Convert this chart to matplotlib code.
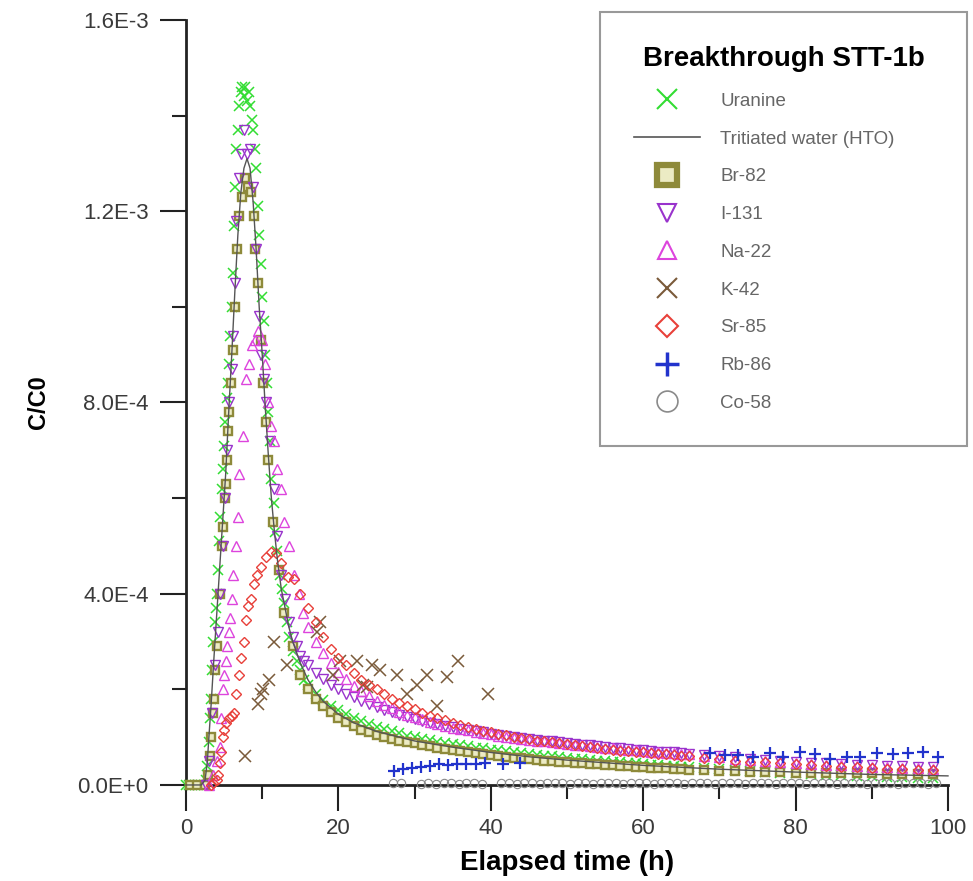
import matplotlib
matplotlib.use('Agg')
import matplotlib.pyplot as plt
from matplotlib.lines import Line2D
from matplotlib.ticker import MultipleLocator, FuncFormatter
import numpy as np

plt.rcParams['font.family'] = ['Liberation Sans', 'DejaVu Sans']

# values, C/C0 in units of 1E-3, time in hours
tail_t = [16, 17, 18, 19, 20, 21, 22, 23, 24, 25, 26, 27, 28, 29, 30, 31, 32, 33, 34, 35,
          36, 37, 38, 39, 40, 41, 42, 43, 44, 45, 46, 47, 48, 49, 50, 51, 52, 53, 54, 55,
          56, 57, 58, 59, 60, 61, 62, 63, 64, 65, 66,
          68, 70, 72, 74, 76, 78, 80, 82, 84, 86, 88, 90, 92, 94, 96, 98]

uranine_t = [0.0, 0.4, 0.8, 1.2, 1.6, 2.0, 2.3, 2.6, 2.8, 3.0, 3.15, 3.3, 3.45, 3.6, 3.75, 3.9,
             4.05, 4.2, 4.35, 4.5, 4.7, 4.85, 5.0, 5.15, 5.35, 5.5, 5.65, 5.8, 6.0, 6.15, 6.3,
             6.45, 6.6, 6.8, 7.0, 7.2, 7.4, 7.6, 7.8, 8.0, 8.2, 8.4, 8.6, 8.8, 9.0, 9.2, 9.4,
             9.6, 9.8, 10.0, 10.2, 10.4, 10.6, 10.8, 11.0, 11.2, 11.5, 11.7, 12.0, 12.3, 12.6,
             12.9, 13.2, 13.5, 14.0, 14.5, 15.0, 15.5]
uranine_v = [0, 0, 0, 0, 0, 0, 0, 0.01, 0.04, 0.09, 0.14, 0.18, 0.24, 0.30, 0.34, 0.37,
             0.40, 0.45, 0.51, 0.56, 0.62, 0.66, 0.71, 0.76, 0.81, 0.84, 0.88, 0.94, 1.00, 1.07, 1.17,
             1.25, 1.33, 1.37, 1.42, 1.45, 1.46, 1.44, 1.46, 1.43, 1.45, 1.42, 1.39, 1.37, 1.33, 1.29, 1.21,
             1.15, 1.09, 1.02, 0.97, 0.90, 0.84, 0.78, 0.72, 0.64, 0.59, 0.53, 0.49, 0.44, 0.41,
             0.38, 0.34, 0.31, 0.28, 0.26, 0.24, 0.22]
uranine_tail = [0.21, 0.19, 0.178, 0.165, 0.157, 0.148, 0.141, 0.133, 0.128, 0.121,
                0.117, 0.112, 0.108, 0.103, 0.100, 0.097, 0.094, 0.090, 0.088, 0.086,
                0.083, 0.081, 0.078, 0.077, 0.074, 0.073, 0.071, 0.068, 0.067, 0.065,
                0.063, 0.061, 0.060, 0.058, 0.057, 0.055, 0.054, 0.052, 0.051, 0.050,
                0.048, 0.047, 0.046, 0.045, 0.044, 0.042, 0.041, 0.040, 0.039, 0.038, 0.037,
                0.035, 0.033, 0.031, 0.029, 0.027, 0.025, 0.024, 0.022, 0.021, 0.020,
                0.019, 0.018, 0.017, 0.016, 0.015, 0.014]

hto_t = [0, 2.0, 2.5, 2.8, 3.0, 3.3, 3.6, 4.0, 4.4, 4.8, 5.2, 5.6, 6.0, 6.4, 6.8, 7.2, 7.6, 8.0,
         8.4, 8.8, 9.2, 9.6, 10.0, 10.4, 10.8, 11.2, 11.6, 12.0, 12.5, 13.0, 13.5, 14, 15, 16, 17,
         18, 20, 22, 25, 30, 35, 40, 45, 50, 60, 70, 80, 90, 100]
hto_v = [0, 0, 0.01, 0.05, 0.10, 0.17, 0.25, 0.35, 0.45, 0.55, 0.65, 0.78, 0.90, 1.03, 1.15, 1.24,
         1.29, 1.31, 1.29, 1.22, 1.12, 1.00, 0.90, 0.79, 0.69, 0.60, 0.53, 0.47, 0.41, 0.37, 0.33,
         0.30, 0.255, 0.22, 0.195, 0.175, 0.148, 0.13, 0.112, 0.092, 0.079, 0.068, 0.059, 0.052,
         0.041, 0.033, 0.027, 0.022, 0.019]

br_t = [0.5, 1.5, 2.5, 2.9, 3.1, 3.3, 3.5, 3.7, 3.85, 4.0, 4.4, 4.7, 4.9, 5.05, 5.2, 5.35, 5.5,
        5.65, 5.9, 6.2, 6.45, 6.7, 7.0, 7.3, 7.7, 8.1, 8.5, 8.9, 9.1, 9.4, 9.8, 10.1, 10.5, 10.8,
        11.4, 12.2, 12.9, 14.0, 15.0]
br_v = [0, 0, 0, 0.02, 0.06, 0.10, 0.15, 0.18, 0.24, 0.29, 0.40, 0.50, 0.54, 0.60, 0.63, 0.68, 0.74,
        0.78, 0.84, 0.91, 1.00, 1.12, 1.19, 1.23, 1.27, 1.25, 1.24, 1.19, 1.12, 1.05, 0.93, 0.84, 0.76,
        0.68, 0.55, 0.45, 0.36, 0.29, 0.23]
br_tail = [0.20, 0.18, 0.165, 0.152, 0.140, 0.131, 0.123, 0.116, 0.110, 0.105,
           0.100, 0.096, 0.093, 0.090, 0.087, 0.084, 0.081, 0.078, 0.076, 0.073,
           0.071, 0.069, 0.067, 0.065, 0.063, 0.061, 0.059, 0.057, 0.056, 0.054,
           0.053, 0.051, 0.050, 0.049, 0.047, 0.046, 0.045, 0.044, 0.043, 0.042,
           0.041, 0.040, 0.039, 0.038, 0.037, 0.036, 0.035, 0.035, 0.034, 0.033, 0.032,
           0.031, 0.030, 0.029, 0.028, 0.027, 0.027, 0.026, 0.026, 0.025, 0.025,
           0.024, 0.024, 0.023, 0.023, 0.022, 0.022]

i_t = [2.6, 3.0, 3.4, 3.8, 4.2, 4.5, 4.8, 5.1, 5.4, 5.7, 6.0, 6.2, 6.4, 6.6, 6.9, 7.2, 7.6, 8.0,
       8.4, 8.8, 9.2, 9.6, 9.9, 10.2, 10.5, 11.0, 11.5, 12.0, 12.5, 13.0, 13.5, 14.0, 14.5, 15.0, 15.5]
i_v = [0.0, 0.05, 0.15, 0.25, 0.32, 0.40, 0.50, 0.60, 0.70, 0.80, 0.87, 0.94, 1.05, 1.18, 1.27, 1.32,
       1.37, 1.32, 1.33, 1.25, 1.12, 0.98, 0.90, 0.85, 0.80, 0.72, 0.62, 0.52, 0.44, 0.39, 0.34, 0.31,
       0.29, 0.27, 0.26]
i_tail = [0.25, 0.235, 0.222, 0.21, 0.20, 0.191, 0.183, 0.176, 0.169, 0.163,
          0.157, 0.152, 0.147, 0.142, 0.138, 0.134, 0.130, 0.127, 0.124, 0.121,
          0.118, 0.115, 0.112, 0.110, 0.107, 0.105, 0.103, 0.101, 0.099, 0.097,
          0.095, 0.093, 0.091, 0.089, 0.087, 0.086, 0.084, 0.083, 0.081, 0.080,
          0.078, 0.077, 0.075, 0.074, 0.073, 0.071, 0.070, 0.069, 0.068, 0.066, 0.065,
          0.063, 0.060, 0.058, 0.055, 0.053, 0.050, 0.048, 0.046, 0.045, 0.043,
          0.042, 0.041, 0.040, 0.039, 0.038, 0.037]

na_t = [3.0, 3.5, 4.0, 4.4, 4.6, 4.8, 5.0, 5.2, 5.4, 5.6, 5.8, 6.0, 6.2, 6.5, 6.8, 7.0, 7.5, 7.9,
        8.3, 8.7, 9.1, 9.5, 10.0, 10.4, 10.8, 11.2, 11.5, 12.0, 12.5, 12.9, 13.5, 14.2, 14.8, 15.4]
na_v = [0.0, 0.02, 0.05, 0.08, 0.14, 0.20, 0.23, 0.26, 0.29, 0.32, 0.35, 0.39, 0.44, 0.50, 0.56, 0.65,
        0.73, 0.85, 0.88, 0.92, 0.93, 0.95, 0.93, 0.88, 0.80, 0.75, 0.72, 0.66, 0.62, 0.55, 0.50, 0.44,
        0.40, 0.36]
na_tail = [0.33, 0.30, 0.275, 0.255, 0.237, 0.222, 0.208, 0.197, 0.186, 0.176,
           0.168, 0.160, 0.153, 0.147, 0.142, 0.137, 0.132, 0.128, 0.124, 0.120,
           0.117, 0.114, 0.111, 0.108, 0.106, 0.103, 0.101, 0.099, 0.097, 0.095,
           0.093, 0.091, 0.089, 0.088, 0.086, 0.084, 0.083, 0.081, 0.080, 0.078,
           0.077, 0.075, 0.074, 0.073, 0.071, 0.070, 0.069, 0.067, 0.066, 0.065, 0.064,
           0.061, 0.058, 0.055, 0.053, 0.050, 0.048, 0.046, 0.044, 0.042, 0.041,
           0.040, 0.038, 0.037, 0.036, 0.035, 0.034]

k_t = [7.7, 9.4, 9.8, 10.1, 10.9, 11.5, 13.3, 17.2, 17.6, 19.3, 20.2, 22.4, 23.2, 23.7, 24.4,
       25.5, 27.7, 29.0, 30.3, 31.6, 33.0, 34.2, 35.7, 39.6]
k_v = [0.06, 0.17, 0.19, 0.20, 0.22, 0.30, 0.25, 0.32, 0.34, 0.23, 0.26, 0.26, 0.21, 0.205, 0.25,
       0.24, 0.23, 0.19, 0.21, 0.23, 0.165, 0.225, 0.26, 0.19]

sr_t = [3.3, 3.6, 4.0, 4.2, 4.4, 4.6, 4.8, 5.0, 5.3, 5.6, 6.0, 6.3, 6.6, 6.9, 7.2, 7.6, 7.9, 8.1,
        8.5, 8.9, 9.3, 9.8, 10.5, 11.2, 11.8, 12.5, 13.4, 14.2, 15.0]
sr_v = [0.0, 0.005, 0.01, 0.02, 0.045, 0.07, 0.10, 0.115, 0.13, 0.14, 0.145, 0.15, 0.19, 0.23, 0.265,
        0.30, 0.345, 0.375, 0.39, 0.42, 0.44, 0.455, 0.477, 0.487, 0.485, 0.465, 0.435, 0.43, 0.40]
sr_tail = [0.37, 0.34, 0.31, 0.285, 0.265, 0.25, 0.235, 0.22, 0.21, 0.2,
           0.19, 0.18, 0.172, 0.165, 0.158, 0.151, 0.145, 0.14, 0.135, 0.13,
           0.125, 0.121, 0.117, 0.113, 0.11, 0.107, 0.104, 0.101, 0.098, 0.096,
           0.093, 0.091, 0.089, 0.087, 0.085, 0.083, 0.081, 0.079, 0.077, 0.076,
           0.074, 0.072, 0.071, 0.069, 0.068, 0.066, 0.065, 0.064, 0.062, 0.061, 0.060,
           0.057, 0.054, 0.051, 0.049, 0.047, 0.045, 0.043, 0.041, 0.040, 0.038,
           0.037, 0.036, 0.034, 0.033, 0.032, 0.031]

rb_t = [27.3, 28.5, 29.6, 30.8, 32.0, 33.2, 34.4, 35.6, 36.8, 38.0, 39.3, 41.6, 43.8,
        68.8, 70.7, 72.4, 74.4, 76.6, 78.3, 80.6, 82.6, 84.5, 86.7, 88.5, 90.7, 92.8, 94.8, 96.7, 98.7]
rb_v = [0.030, 0.034, 0.036, 0.037, 0.040, 0.044, 0.041, 0.043, 0.043, 0.044, 0.045, 0.044, 0.045,
        0.067, 0.063, 0.063, 0.059, 0.067, 0.059, 0.069, 0.065, 0.054, 0.059, 0.059, 0.067, 0.065,
        0.067, 0.069, 0.059]

co_t = [27.2, 28.2, 30.8, 31.8, 32.8, 33.8, 34.8, 35.8, 36.8, 37.8, 38.8,
        41.4, 42.4, 43.4, 44.4, 45.4, 46.4, 47.4, 48.4, 49.4, 50.4, 51.4, 52.4, 53.4, 54.4, 55.4,
        56.4, 57.4, 58.4, 59.4, 60.4, 61.4, 62.4, 63.4, 64.4, 65.4, 66.4, 67.4, 68.4, 69.4, 70.4,
        71.4, 72.4, 73.4, 74.4, 75.4, 76.4, 77.4, 78.4, 79.4, 80.4, 81.4, 82.4, 83.4, 84.4, 85.4,
        86.4, 87.4, 88.4, 89.4, 90.4, 91.4, 92.4, 93.4, 94.4, 95.4, 96.4, 97.4, 98.4]
co_v = [0.004, 0.004, 0.003, 0.004, 0.003, 0.004, 0.004, 0.003, 0.004, 0.004, 0.003,
        0.004, 0.004, 0.003, 0.004, 0.004, 0.003, 0.004, 0.004, 0.004, 0.003,
        0.004, 0.004, 0.003, 0.004, 0.004, 0.004, 0.003, 0.004, 0.004, 0.004,
        0.003, 0.004, 0.004, 0.004, 0.003, 0.004, 0.004, 0.004, 0.003, 0.004,
        0.004, 0.004, 0.003, 0.004, 0.004, 0.004, 0.003, 0.004, 0.004, 0.004,
        0.003, 0.004, 0.004, 0.004, 0.003, 0.004, 0.004, 0.004, 0.003, 0.004,
        0.004, 0.004, 0.003, 0.004, 0.004, 0.004, 0.003, 0.004]

scale = 1e-3

# colours
c_ura = '#33dd33'
c_br = '#8e8a3a'
c_i = '#9933cc'
c_na = '#dd44dd'
c_k = '#7a5a3a'
c_sr = '#e8403a'
c_rb = '#2233cc'
c_co = '#8a8a8a'

fig = plt.figure(figsize=(9.73, 8.81), dpi=100)
ax = fig.add_axes([0.1912, 0.109, 0.7831, 0.8683])

ax.plot(uranine_t + tail_t, np.array(uranine_v + uranine_tail) * scale, ls='none', marker='x',
        ms=7, mew=1.1, color=c_ura, clip_on=False, zorder=3)
ax.plot(hto_t, np.array(hto_v) * scale, color='#555555', lw=1.0, clip_on=False, zorder=4)
ax.plot(br_t + tail_t, np.array(br_v + br_tail) * scale, ls='none', marker='s', ms=5.5, mew=1.7,
        mec=c_br, mfc='#ecebc4', clip_on=False, zorder=3)
ax.plot(i_t + tail_t, np.array(i_v + i_tail) * scale, ls='none', marker='v', ms=6.5, mew=1.0,
        mec=c_i, mfc='none', clip_on=False, zorder=3)
ax.plot(na_t + tail_t, np.array(na_v + na_tail) * scale, ls='none', marker='^', ms=6.5, mew=1.0,
        mec=c_na, mfc='none', clip_on=False, zorder=3)
ax.plot(k_t, np.array(k_v) * scale, ls='none', marker='x', ms=8, mew=1.1, color=c_k,
        clip_on=False, zorder=3)
ax.plot(sr_t + tail_t, np.array(sr_v + sr_tail) * scale, ls='none', marker='D', ms=5.5, mew=1.0,
        mec=c_sr, mfc='none', clip_on=False, zorder=3)
ax.plot(rb_t, np.array(rb_v) * scale, ls='none', marker='+', ms=9, mew=1.6, color=c_rb,
        clip_on=False, zorder=3)
ax.plot(co_t, np.array(co_v) * scale, ls='none', marker='o', ms=6, mew=0.8, mec=c_co,
        mfc='none', clip_on=False, zorder=3)

ax.set_xlim(0, 100)
ax.set_ylim(0, 1.6e-3)

for side in ['top', 'right']:
    ax.spines[side].set_visible(False)
for side in ['left', 'bottom']:
    ax.spines[side].set_linewidth(2)
    ax.spines[side].set_color('#222222')

ax.xaxis.set_major_locator(MultipleLocator(20))
ax.xaxis.set_minor_locator(MultipleLocator(10))
ax.yaxis.set_major_locator(MultipleLocator(4e-4))
ax.yaxis.set_minor_locator(MultipleLocator(2e-4))


def sci(v, pos):
    s = '{:.1E}'.format(v)
    return s.replace('E-0', 'E-').replace('E+00', 'E+0')


ax.yaxis.set_major_formatter(FuncFormatter(sci))
ax.tick_params(which='major', direction='out', length=19, width=1.5, color='#222222',
               labelsize=16, labelcolor='#3a3a3a')
ax.tick_params(which='minor', direction='out', length=10, width=1.5, color='#222222')
ax.tick_params(axis='y', pad=8)
ax.tick_params(axis='x', pad=5)

ax.set_xlabel('Elapsed time (h)', fontsize=20, fontweight='bold', labelpad=8)
ax.set_ylabel('C/C0', fontsize=17, fontweight='bold', labelpad=20)

handles = [
    Line2D([], [], ls='none', marker='x', ms=15, mew=1.5, color=c_ura),
    Line2D([], [], color='#555555', lw=1.2),
    Line2D([], [], ls='none', marker='s', ms=14, mew=4.5, mec=c_br, mfc='#ecebc4'),
    Line2D([], [], ls='none', marker='v', ms=13, mew=1.5, mec=c_i, mfc='none'),
    Line2D([], [], ls='none', marker='^', ms=13, mew=1.5, mec=c_na, mfc='none'),
    Line2D([], [], ls='none', marker='x', ms=15, mew=1.5, color=c_k),
    Line2D([], [], ls='none', marker='D', ms=11, mew=1.5, mec=c_sr, mfc='none'),
    Line2D([], [], ls='none', marker='+', ms=17, mew=2.5, color=c_rb),
    Line2D([], [], ls='none', marker='o', ms=15, mew=1.2, mec=c_co, mfc='none'),
]
labels = ['Uranine', 'Tritiated water (HTO)', 'Br-82', 'I-131', 'Na-22', 'K-42', 'Sr-85',
          'Rb-86', 'Co-58']

leg = ax.legend(handles, labels, loc='upper left', bbox_to_anchor=(0.617, 0.986, 0.377, 0),
                bbox_transform=fig.transFigure, mode='expand', borderaxespad=0,
                fontsize=13.5, labelcolor='#666666', title='Breakthrough STT-1b',
                title_fontproperties={'weight': 'bold', 'size': 20}, frameon=True,
                fancybox=False, framealpha=1, edgecolor='#999999', borderpad=1.8,
                labelspacing=1.1, handlelength=3.5, handletextpad=1.1)
leg.get_frame().set_linewidth(1.5)

fig.savefig('out.png', dpi=100)
